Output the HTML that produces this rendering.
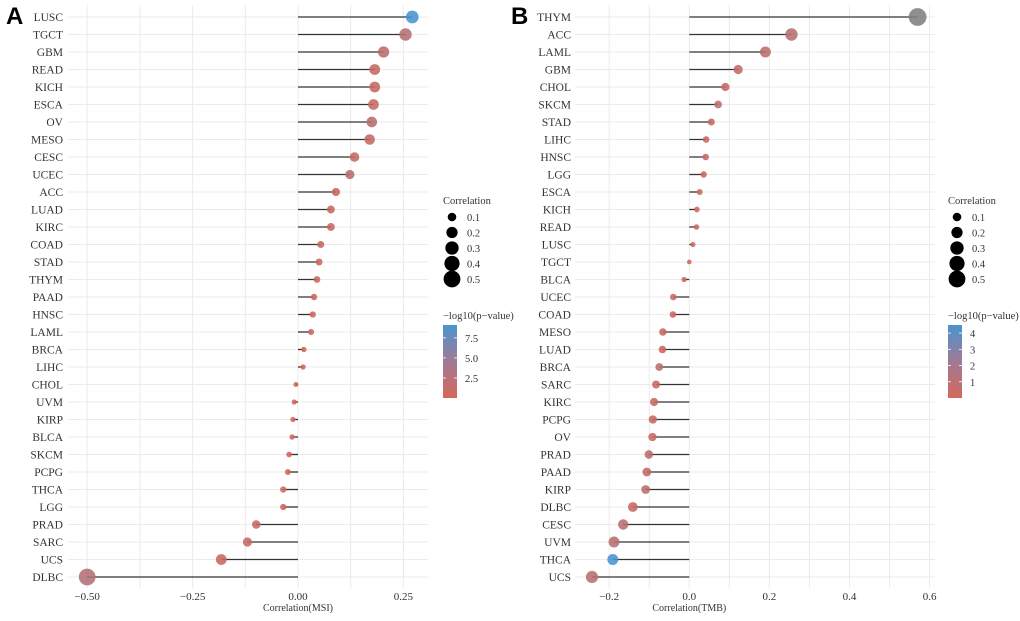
<!DOCTYPE html>
<html><head><meta charset="utf-8"><style>
body{margin:0;background:#fff;width:1020px;height:616px;overflow:hidden}
svg text{font-family:"Liberation Serif",serif;fill:#333}
</style></head><body>
<svg id="chart" width="1020" height="616" xmlns="http://www.w3.org/2000/svg">
<defs>
<linearGradient id="gradA" x1="0" y1="1" x2="0" y2="0"><stop offset="0" stop-color="#d4685a"/><stop offset="0.5" stop-color="#a07a95"/><stop offset="1" stop-color="#4a94cf"/></linearGradient>
<linearGradient id="gradB" x1="0" y1="1" x2="0" y2="0"><stop offset="0" stop-color="#d4685a"/><stop offset="0.5" stop-color="#a07a95"/><stop offset="1" stop-color="#4a94cf"/></linearGradient>
</defs>
</svg>
<script>
const catsA=["LUSC","TGCT","GBM","READ","KICH","ESCA","OV","MESO","CESC","UCEC","ACC","LUAD","KIRC","COAD","STAD","THYM","PAAD","HNSC","LAML","BRCA","LIHC","CHOL","UVM","KIRP","BLCA","SKCM","PCPG","THCA","LGG","PRAD","SARC","UCS","DLBC"];
const valsA=[0.271,0.255,0.203,0.182,0.182,0.179,0.175,0.17,0.134,0.123,0.09,0.078,0.078,0.054,0.05,0.045,0.038,0.035,0.031,0.014,0.012,-0.005,-0.009,-0.012,-0.014,-0.021,-0.024,-0.035,-0.035,-0.099,-0.12,-0.182,-0.5];
const pA=[9.1,2.0,1.4,0.9,0.9,1.0,1.8,0.8,0.8,1.8,0.6,0.6,0.6,0.5,0.5,0.5,0.4,0.4,0.4,0.3,0.3,0.2,0.2,0.2,0.2,0.2,0.2,0.3,0.3,0.8,0.7,0.6,2.2];
const ticksA=[-0.5,-0.25,0,0.25];
const tickLabA=["\u22120.50","\u22120.25","0.00","0.25"];
const catsB=["THYM","ACC","LAML","GBM","CHOL","SKCM","STAD","LIHC","HNSC","LGG","ESCA","KICH","READ","LUSC","TGCT","BLCA","UCEC","COAD","MESO","LUAD","BRCA","SARC","KIRC","PCPG","OV","PRAD","PAAD","KIRP","DLBC","CESC","UVM","THCA","UCS"];
const valsB=[0.57,0.255,0.19,0.122,0.09,0.072,0.055,0.042,0.041,0.036,0.026,0.019,0.018,0.009,0.0,-0.013,-0.04,-0.041,-0.066,-0.067,-0.075,-0.083,-0.088,-0.091,-0.092,-0.101,-0.106,-0.109,-0.141,-0.165,-0.188,-0.191,-0.243];
const pB=[null,0.9,0.7,0.6,0.3,0.7,0.3,0.25,0.25,0.25,0.2,0.2,0.2,0.2,0.1,0.2,0.2,0.2,0.3,0.3,0.8,0.35,0.35,0.3,0.35,0.8,0.4,0.8,0.3,0.8,0.8,4.3,0.8];
const ticksB=[-0.2,0,0.2,0.4,0.6];
const tickLabB=["\u22120.2","0.0","0.2","0.4","0.6"];
const sizeLeg=[0.1,0.2,0.3,0.4,0.5];

const svg=document.getElementById('chart');
const NS="http://www.w3.org/2000/svg";
function mk(t,a,p){const e=document.createElementNS(NS,t);for(const k in a)e.setAttribute(k,a[k]);(p||svg).appendChild(e);return e;}
function rad(v){return Math.sqrt(5.5+130*Math.abs(v));}
function col(p,max){if(p===null)return "#7f7f7f";const t=Math.max(0,Math.min(1,p/max));const a=[210,100,88],b=[70,148,210];return "rgb("+a.map((c,i)=>Math.round(c+(b[i]-c)*t)).join(",")+")";}
const y0=17,dy=17.5;
function yPos(i){return y0+i*dy;}

function panel(cats,vals,ps,pmax,x0,scale,left,right,ticks,tl,minorStep,xmin,xmax,labX,title,prefix){
  const g=mk('g',{});
  
  
  const xs=v=>x0+v*scale;
  for(let v=Math.ceil(xmin/minorStep)*minorStep;v<=xmax+1e-9;v+=minorStep){
    mk('line',{x1:xs(v),x2:xs(v),y1:5,y2:588,stroke:'#ebebeb','stroke-width':1},g);
  }
  cats.forEach((c,i)=>{
    const y=yPos(i);
    mk('line',{x1:left,x2:right,y1:y,y2:y,stroke:'#ebebeb','stroke-width':1},g);
  });
  cats.forEach((c,i)=>{
    const y=yPos(i);
    const lab=mk('text',{x:labX,y:y+4,'text-anchor':'end','font-size':11.5},g);lab.textContent=c;
    
    
    const ln=mk('line',{x1:xs(0),x2:xs(vals[i]),y1:y,y2:y,stroke:'#333','stroke-width':1.3},g);
    
    
    const ci=mk('circle',{cx:xs(vals[i]),cy:y,r:rad(vals[i]),fill:col(ps[i],pmax),'fill-opacity':0.88},g);
    
    
  });
  ticks.forEach((t,i)=>{
    const tx=mk('text',{x:xs(t),y:600,'text-anchor':'middle','font-size':11},g);tx.textContent=tl[i];
    
    
  });
  const at=mk('text',{x:xs(0),y:611,'text-anchor':'middle','font-size':10},g);at.textContent=title;
  
  
}
panel(catsA,valsA,pA,9.1,298,421.6,68,428,ticksA,tickLabA,0.125,-0.53,0.3,63,"Correlation(MSI)","a");
panel(catsB,valsB,pB,4.3,689.3,400.5,575,935,ticksB,tickLabB,0.1,-0.26,0.61,571,"Correlation(TMB)","b");

function legend(x,prefix,grad,cbTicks,cbLabs,vmax){
  const g=mk('g',{});
  
  
  const t=mk('text',{x:x,y:204,'font-size':10.5},g);t.textContent="Correlation";
  sizeLeg.forEach((v,i)=>{
    const y=217+i*15.5;
    mk('circle',{cx:x+9,cy:y,r:rad(v),fill:'#000'},g);
    const l=mk('text',{x:x+24,y:y+4,'font-size':10.5},g);l.textContent=String(v);
  });
  const t2=mk('text',{x:x,y:319,'font-size':10.5},g);t2.textContent="\u2212log10(p\u2212value)";
  const top=325,bot=398;
  const bar=mk('rect',{x:x,y:top,width:14,height:bot-top,fill:'url(#'+grad+')'},g);
  
  
  cbTicks.forEach((v,i)=>{
    const y=bot-(v/vmax)*(bot-top);
    mk('line',{x1:x,x2:x+3,y1:y,y2:y,stroke:'#fff','stroke-width':0.8},g);
    mk('line',{x1:x+11,x2:x+14,y1:y,y2:y,stroke:'#fff','stroke-width':0.8},g);
    const l=mk('text',{x:x+22,y:y+4,'font-size':10.5},g);l.textContent=cbLabs[i];
  });
}
legend(443,"a","gradA",[2.5,5,7.5],["2.5","5.0","7.5"],9.1);
legend(948,"b","gradB",[1,2,3,4],["1","2","3","4"],4.5);

const A=mk('text',{x:6,y:24,'font-size':24,'font-weight':'bold'});A.textContent="A";
A.setAttribute('style','font-family:"Liberation Sans",sans-serif;fill:#000');


const B=mk('text',{x:511,y:24,'font-size':24,'font-weight':'bold'});B.textContent="B";
B.setAttribute('style','font-family:"Liberation Sans",sans-serif;fill:#000');


</script>
</body></html>
